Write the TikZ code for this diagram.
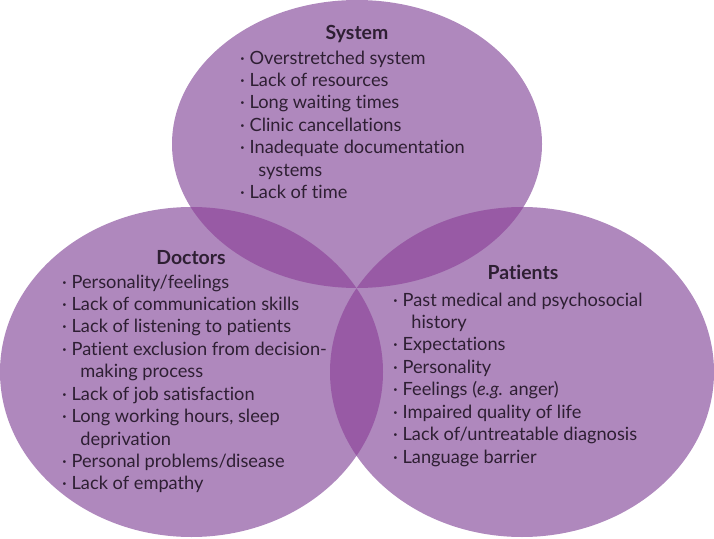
\documentclass[tikz,border=0pt]{standalone}
\usepackage{fontspec}
\setmainfont{Lato}[Ligatures=NoCommon]
\usepackage{tikz}
\usetikzlibrary{positioning}

\definecolor{vennlight}{HTML}{AF88BD}
\definecolor{venndark}{HTML}{985AA5}
\definecolor{ink}{HTML}{2E1F33}

\tikzset{
  venn/.style={fill=vennlight},
  lens/.style={fill=venndark},
  head/.style={font=\bfseries\fontsize{19.5}{22}\selectfont, text=ink, inner sep=0pt, anchor=base},
  items/.style={align=left, font=\fontsize{18.3}{22.5}\selectfont, text=ink, inner sep=0pt, anchor=north west}
}
\newcommand{\itm}{\textperiodcentered\ }
\newcommand{\cont}{\hspace*{1.0em}}

\begin{document}
\begin{tikzpicture}[x=1bp,y=-1bp]
\useasboundingbox (0,0) rectangle (714,539);

% the three circles
\def\sysshape{(357,144) ellipse [x radius=185, y radius=144]}
\def\docshape{(191.5,372) ellipse [x radius=191.5, y radius=165]}
\def\patshape{(522,372) ellipse [x radius=192, y radius=165]}
\fill[venn] \sysshape;
\fill[venn] \docshape;
\fill[venn] \patshape;

% overlaps
\begin{scope}
  \clip \sysshape;
  \fill[lens] \docshape;
  \fill[lens] \patshape;
\end{scope}
\begin{scope}
  \clip \docshape;
  \fill[lens] \patshape;
\end{scope}

% System
\node[head] (sys) at (357,40) {System};
\node[items] (sysitems) at (240,50.5) {%
  \itm Overstretched system\\
  \itm Lack of resources\\
  \itm Long waiting times\\
  \itm Clinic cancellations\\
  \itm Inadequate documentation\\
  \cont systems\\
  \itm Lack of time};

% Doctors
\node[head] (doc) at (191,265) {Doctors};
\node[items] (docitems) at (62,274.5) {%
  \itm Personality/feelings\\
  \itm Lack of communication skills\\
  \itm Lack of listening to patients\\
  \itm Patient exclusion from decision-\\
  \cont making process\\
  \itm Lack of job satisfaction\\
  \itm Long working hours, sleep\\
  \cont deprivation\\
  \itm Personal problems/disease\\
  \itm Lack of empathy};

% Patients
\node[head] (pat) at (523,280) {Patients};
\node[items] (patitems) at (393,292.5) {%
  \itm Past medical and psychosocial\\
  \cont history\\
  \itm Expectations\\
  \itm Personality\\
  \itm Feelings (\textit{e.g.} anger)\\
  \itm Impaired quality of life\\
  \itm Lack of/untreatable diagnosis\\
  \itm Language barrier};
\end{tikzpicture}
\end{document}
